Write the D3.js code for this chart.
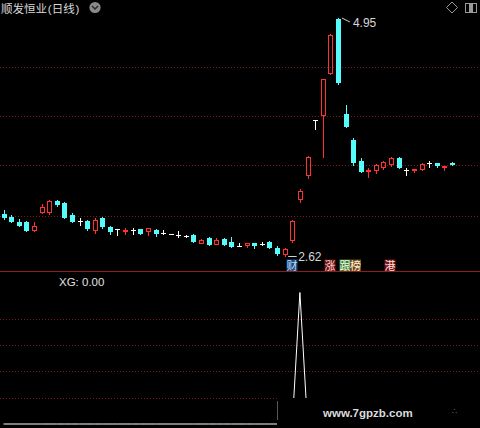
<!DOCTYPE html>
<html>
<head>
<meta charset="utf-8">
<script src="https://cdn.jsdelivr.net/npm/d3@7"></script>
<style>
  html, body { margin: 0; padding: 0; background: #000; overflow: hidden; }
  svg { display: block; }
</style>
</head>
<body>
<svg id="chart" width="480" height="428"></svg>
<script>
// ---- data ----
const title = "顺发恒业(日线)";
const open  = [3.03,3.00,2.95,2.95,2.87,3.05,3.05,3.16,3.14,3.02,
               2.96,2.96,2.87,2.99,2.90,2.88,2.86,2.87,2.88,2.86,
               2.87,2.85,2.84,2.83,2.82,2.83,2.75,2.80,2.74,2.79,
               2.76,2.72,2.73,2.75,2.74,2.76,2.70,2.64,2.78,3.18,
               3.41,3.95,4.00,4.41,4.94,4.01,3.76,3.55,3.45,3.46,
               3.49,3.52,3.58,3.46,3.46,3.47,3.53,3.53,3.49,3.53];
const high  = [3.07,3.02,2.98,2.96,2.95,3.13,3.17,3.17,3.15,3.04,
               2.99,2.97,2.99,3.00,2.91,2.88,2.89,2.89,2.88,2.89,
               2.88,2.87,2.84,2.86,2.83,2.84,2.79,2.81,2.80,2.80,
               2.81,2.75,2.75,2.75,2.76,2.77,2.72,2.70,2.97,3.28,
               3.60,3.95,4.35,4.79,4.95,4.10,3.78,3.58,3.48,3.52,
               3.55,3.59,3.59,3.48,3.47,3.53,3.55,3.53,3.50,3.54];
const low   = [2.98,2.95,2.91,2.86,2.86,3.04,3.03,3.11,2.99,2.95,
               2.92,2.87,2.85,2.89,2.84,2.83,2.84,2.84,2.84,2.83,
               2.82,2.84,2.84,2.81,2.81,2.76,2.75,2.73,2.74,2.73,
               2.71,2.72,2.71,2.70,2.73,2.70,2.63,2.62,2.76,3.15,
               3.38,3.86,3.59,4.40,4.30,3.88,3.51,3.44,3.39,3.43,
               3.47,3.50,3.48,3.41,3.44,3.46,3.49,3.49,3.46,3.51];
const close = [3.00,2.96,2.92,2.87,2.91,3.10,3.16,3.13,3.00,2.96,
               2.96,2.89,2.97,2.91,2.86,2.88,2.87,2.87,2.85,2.89,
               2.85,2.85,2.84,2.83,2.82,2.77,2.78,2.74,2.78,2.74,
               2.72,2.72,2.75,2.73,2.74,2.71,2.65,2.69,2.96,3.26,
               3.59,3.95,4.35,4.78,4.32,3.89,3.54,3.45,3.46,3.51,
               3.54,3.58,3.49,3.46,3.47,3.52,3.53,3.51,3.50,3.52];
// XG signal line (lower pane)
const xg    = [0,0,0,0,0,0,0,0,0,0,
               0,0,0,0,0,0,0,0,0,0,
               0,0,0,0,0,0,0,0,0,0,
               0,0,0,0,0,0,0,0,0,1,
               0,0,0,0,0,0,0,0,0,0,
               0,0,0,0,0,0,0,0,0,0];
const priceGrid = [4.47, 3.99, 3.51, 3.01];
const xgGrid    = [0.2, 0.4, 0.6, 0.8];
const xgLabel   = "XG: 0.00";
const markerIndex = [37, 42, 44, 50];
const markerText  = ["财", "涨", "跟榜", "港"];
const watermark   = "www.7gpzb.com";

// ---- styles ----
const UP = "#ff3232", DOWN = "#54fcfc", FLAT = "#ffffff";
const GRID = "#7a1a1a";
const markerColors = { "财": ["#1d4a7c", "#b8dcff"], "涨": ["#6e1212", "#ffd8d8"],
                       "跟": ["#3d7a2a", "#f0fff0"], "榜": ["#6e4a1e", "#fff2dc"],
                       "港": ["#741414", "#ffe0e0"] };
const latin = "'Liberation Sans', Arial, sans-serif";
const cjk = "'Noto Sans CJK SC', 'Noto Sans', sans-serif";

const svg = d3.select("#chart");
svg.append("rect").attr("width", 480).attr("height", 428).attr("fill", "#000");

const n = close.length;
const x = d3.scaleLinear().domain([0, n - 1]).range([3.5, 451.9]);
const y = d3.scaleLinear().domain([d3.min(low), d3.max(high)]).range([256, 18]);
const y2 = d3.scaleLinear().domain([0, 1]).range([424, 292.5]);

// ---- grid lines ----
const gridG = svg.append("g");
gridG.selectAll("line.pg").data(priceGrid).join("line")
  .attr("x1", 0).attr("x2", 480)
  .attr("y1", d => Math.round(y(d)) + 0.5).attr("y2", d => Math.round(y(d)) + 0.5)
  .attr("stroke", GRID).attr("stroke-dasharray", "1,2");
gridG.selectAll("line.xg").data(xgGrid).join("line")
  .attr("x1", 0).attr("x2", 480)
  .attr("y1", d => Math.round(y2(d)) + 0.5).attr("y2", d => Math.round(y2(d)) + 0.5)
  .attr("stroke", GRID).attr("stroke-dasharray", "1,2");
// pane separator
svg.append("line").attr("x1", 0).attr("x2", 480).attr("y1", 271.5).attr("y2", 271.5)
  .attr("stroke", "#8c1e1e");

// ---- candles ----
const candles = svg.append("g");
d3.range(n).forEach(i => {
  const cx = Math.round(x(i));
  const o = open[i], c = close[i];
  const top = Math.round(y(Math.max(o, c))), bot = Math.round(y(Math.min(o, c)));
  const yh = Math.round(y(high[i])), yl = Math.round(y(low[i]));
  const g = candles.append("g");
  if (c === o) {
    g.append("line").attr("x1", cx + 0.5).attr("x2", cx + 0.5).attr("y1", yh).attr("y2", yl + 1)
      .attr("stroke", FLAT);
    g.append("line").attr("x1", cx - 2).attr("x2", cx + 3).attr("y1", top + 0.5).attr("y2", top + 0.5)
      .attr("stroke", FLAT);
  } else if (c > o) {
    g.append("line").attr("x1", cx + 0.5).attr("x2", cx + 0.5).attr("y1", yh).attr("y2", top)
      .attr("stroke", UP);
    g.append("line").attr("x1", cx + 0.5).attr("x2", cx + 0.5).attr("y1", bot + 1).attr("y2", yl + 1)
      .attr("stroke", UP);
    g.append("rect").attr("x", cx - 1.5).attr("y", top + 0.5)
      .attr("width", 4).attr("height", Math.max(bot - top, 1))
      .attr("fill", "none").attr("stroke", UP);
  } else {
    g.append("line").attr("x1", cx + 0.5).attr("x2", cx + 0.5).attr("y1", yh).attr("y2", yl + 1)
      .attr("stroke", DOWN);
    g.append("rect").attr("x", cx - 2).attr("y", top)
      .attr("width", 5).attr("height", Math.max(bot - top + 1, 2))
      .attr("fill", DOWN);
  }
});

// ---- high / low annotations ----
const iHi = d3.maxIndex(high), iLo = d3.minIndex(low);
const hx = x(iHi), hy = y(high[iHi]);
svg.append("line").attr("x1", hx + 4).attr("y1", hy).attr("x2", hx + 12).attr("y2", hy + 4)
  .attr("stroke", "#d0d0d0");
svg.append("text").attr("x", hx + 15).attr("y", hy + 9)
  .attr("font-family", latin).attr("font-size", 12).attr("fill", "#d8d8d8")
  .text(d3.format(".2f")(high[iHi]));
const lx = x(iLo), ly = Math.round(y(low[iLo])) + 0.5;
svg.append("line").attr("x1", lx + 3.5).attr("y1", ly).attr("x2", lx + 12).attr("y2", ly)
  .attr("stroke", "#d0d0d0");
svg.append("text").attr("x", lx + 13.5).attr("y", ly + 4.5)
  .attr("font-family", latin).attr("font-size", 12).attr("fill", "#d8d8d8")
  .text(d3.format(".2f")(low[iLo]));

// ---- information markers ----
const mk = svg.append("g");
markerIndex.forEach((idx, k) => {
  let left = Math.round(x(idx)) + 1.5;
  Array.from(markerText[k]).forEach(ch => {
    const [bg, fg] = markerColors[ch];
    mk.append("rect").attr("x", left).attr("y", 259.5).attr("width", 11).attr("height", 11.5)
      .attr("fill", bg);
    mk.append("text").attr("x", left + 5.5).attr("y", 269.5).attr("text-anchor", "middle")
      .attr("font-family", cjk).attr("font-size", 11).attr("fill", fg).text(ch);
    left += 10.5;
  });
});

// ---- XG pane ----
svg.append("text").attr("x", 59).attr("y", 286)
  .attr("font-family", latin).attr("font-size", 11.5).attr("fill", "#e0e0e0").text(xgLabel);
svg.append("path").datum(xg)
  .attr("d", d3.line().x((d, i) => x(i)).y(d => y2(d)))
  .attr("fill", "none").attr("stroke", "#ffffff").attr("stroke-width", 1);

// site stamp over the lower right corner
svg.append("rect").attr("x", 277).attr("y", 398).attr("width", 203).attr("height", 30).attr("fill", "#000");
svg.append("line").attr("x1", 277.5).attr("x2", 277.5).attr("y1", 401).attr("y2", 420)
  .attr("stroke", "#555");
svg.append("text").attr("x", 323).attr("y", 417)
  .attr("font-family", latin).attr("font-weight", "bold").attr("font-size", 11.5)
  .attr("fill", "#dcdcdc").text(watermark);
svg.append("text").attr("x", 452).attr("y", 414)
  .attr("font-family", latin).attr("font-size", 8).attr("fill", "#777").text("∴");

// ---- header: CJK name with narrow latin brackets ----
const head = svg.append("text").attr("x", 1).attr("y", 13)
  .attr("font-size", 11.5).attr("fill", "#d8d8d8");
const headParts = title.split(/([()])/).filter(s => s.length);
headParts.forEach(s => {
  head.append("tspan")
    .attr("font-family", /[()]/.test(s) ? latin : cjk)
    .attr("dx", /[()]/.test(s) ? 0.8 : 0)
    .text(s);
});
svg.append("circle").attr("cx", 95).attr("cy", 7.5).attr("r", 5.6).attr("fill", "#8a8a8a");
svg.append("path").attr("d", "M92,6 L95,9 L98,6").attr("fill", "none")
  .attr("stroke", "#2a2a2a").attr("stroke-width", 1.5);
svg.append("path").attr("d", "M452,2 L457.5,7.5 L452,13 L446.5,7.5 Z").attr("fill", "none")
  .attr("stroke", "#9a9a9a");
svg.append("rect").attr("x", 465.5).attr("y", 3.5).attr("width", 11).attr("height", 9)
  .attr("fill", "none").attr("stroke", "#9a9a9a");
svg.append("rect").attr("x", 469).attr("y", 4).attr("width", 4).attr("height", 8).attr("fill", "#9a9a9a");
</script>
</body>
</html>
